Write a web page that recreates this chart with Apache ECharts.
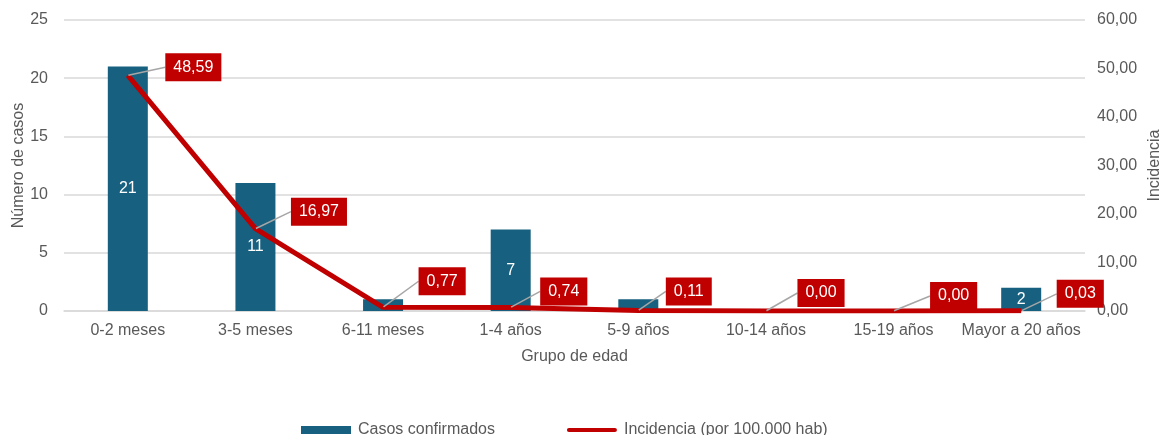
<!DOCTYPE html>
<html>
<head>
<meta charset="utf-8">
<script src="https://cdn.jsdelivr.net/npm/echarts@6/dist/echarts.min.js"></script>
<style>
  html, body { margin: 0; padding: 0; background: #fff; }
  #chart { width: 1162px; height: 435px; }
</style>
</head>
<body>
<div id="chart"></div>
<script>
// datos
const grupos = ['0-2 meses', '3-5 meses', '6-11 meses', '1-4 años', '5-9 años', '10-14 años', '15-19 años', 'Mayor a 20 años'];
const casos = [21, 11, 1, 7, 1, 0, 0, 2];
const incidencia = [48.59, 16.97, 0.77, 0.74, 0.11, 0.00, 0.00, 0.03];
const ticksCasos = [0, 5, 10, 15, 20, 25];
const ticksIncidencia = [0, 10, 20, 30, 40, 50, 60];

// desplazamiento de las etiquetas rojas
const corrX = [32, 30, 30, 24, 22, 26, 31, 30];
const subida = [-8, -17, -26, -16, -19, -18, -15, -17];

const gris = '#595959';
const fmt2 = v => v.toFixed(2).replace('.', ',');

const chart = echarts.init(document.getElementById('chart'));

const option = {
  textStyle: { fontFamily: 'Liberation Sans, Arial, sans-serif' },
  animation: false,
  grid: { left: 64, right: 77, top: 20, bottom: 124, outerBoundsMode: 'none', containLabel: false },
  legend: {
    top: 417,
    left: 296,
    itemGap: 72,
    itemWidth: 50,
    itemHeight: 8,
    textStyle: { color: gris, fontSize: 16, padding: [0, 0, 0, 2] },
    data: [
      { name: 'Casos confirmados', icon: 'rect' },
      { name: 'Incidencia (por 100.000 hab)', icon: 'path://M4,0 L96,0 A4,4 0 0 1 96,8 L4,8 A4,4 0 0 1 4,0 Z', itemStyle: { color: '#C00000' } }
    ]
  },
  xAxis: {
    type: 'category',
    data: grupos,
    name: 'Grupo de edad',
    nameLocation: 'middle',
    nameGap: 38,
    nameTextStyle: { color: gris, fontSize: 16 },
    axisTick: { show: false },
    axisLine: { lineStyle: { color: '#d9d9d9', width: 1.5 } },
    axisLabel: { color: gris, fontSize: 16, margin: 12, interval: 0 }
  },
  yAxis: [{
    type: 'value',
    min: ticksCasos[0],
    max: ticksCasos[ticksCasos.length - 1],
    interval: 5,
    name: 'Número de casos',
    nameLocation: 'middle',
    nameGap: 37,
    nameMoveOverlap: false,
    nameRotate: 90,
    nameTextStyle: { color: gris, fontSize: 16 },
    axisLabel: { color: gris, fontSize: 16, margin: 16 },
    splitLine: { lineStyle: { color: '#d9d9d9', width: 1.5 } }
  }, {
    type: 'value',
    min: ticksIncidencia[0],
    max: ticksIncidencia[ticksIncidencia.length - 1],
    interval: 10,
    name: 'Incidencia',
    nameLocation: 'middle',
    nameGap: 62,
    nameMoveOverlap: false,
    nameRotate: 90,
    nameTextStyle: { color: gris, fontSize: 16 },
    axisLabel: { color: gris, fontSize: 16, margin: 12, formatter: fmt2 },
    splitLine: { show: false }
  }],
  series: [{
    name: 'Casos confirmados',
    type: 'bar',
    data: casos,
    barWidth: 40,
    itemStyle: { color: '#17607F' },
    label: {
      show: true,
      position: 'inside',
      color: '#fff',
      fontSize: 16,
      formatter: p => (p.value > 1 ? p.value : '')
    }
  }, {
    name: 'Incidencia (por 100.000 hab)',
    type: 'line',
    yAxisIndex: 1,
    data: incidencia,
    symbol: 'circle',
    symbolSize: 1,
    z: 3,
    lineStyle: { color: '#C00000', width: 5 },
    itemStyle: { color: '#C00000' },
    label: {
      show: true,
      position: 'right',
      color: '#fff',
      fontSize: 16,
      backgroundColor: '#C00000',
      padding: [6, 8],
      formatter: p => fmt2(p.value)
    },
    labelLayout: p => ({ dx: corrX[p.dataIndex], dy: subida[p.dataIndex] }),
    labelLine: { show: true, lineStyle: { color: '#a6a6a6', width: 1.5 } }
  }]
};

chart.setOption(option);
</script>
</body>
</html>
